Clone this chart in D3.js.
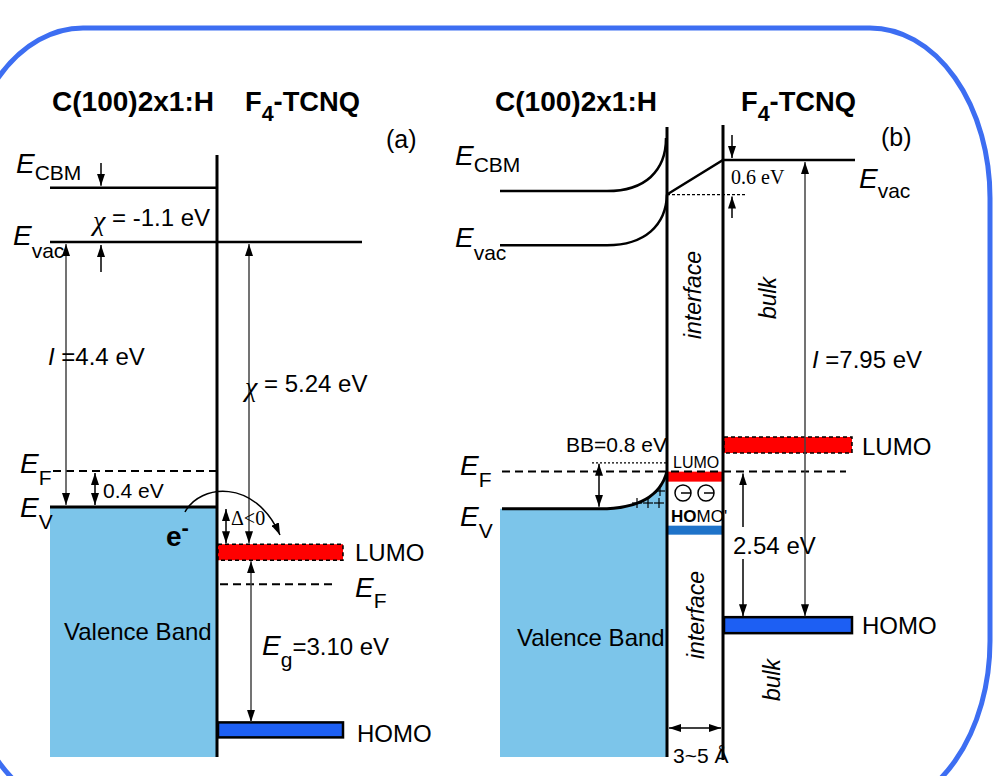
<!DOCTYPE html>
<html>
<head>
<meta charset="utf-8">
<script src="https://cdn.jsdelivr.net/npm/d3@7"></script>
<style>
    body { margin: 0; background: #fff; }
    text { font-family: "Liberation Sans", Arial, sans-serif; fill: #000; }
    .serif { font-family: "Liberation Serif", "Times New Roman", serif; }
</style>
</head>
<body>
<div id="chart"></div>
<script>
var svgWidth = 993;
var svgHeight = 776;

// ---- energy levels in eV (relative to the F4-TCNQ vacuum level) ----
// panel (a): before contact
var aDiamondLevels = [0.9, 0, -3.8, -4.4];        // E_CBM, E_vac, E_F, E_V
var aMoleculeLevels = [0, -5.15, -5.68, -8.1];    // E_vac, LUMO, E_F, HOMO
var aGapLabels = ["-1.1 eV", "4.4 eV", "0.4 eV", "5.24 eV", "3.10 eV"];

// panel (b): after contact
var bDiamondLevels = [-0.54, -1.48, -5.41, -6.06]; // E_CBM, E_vac, E_F, E_V (bulk)
var bSurfaceLevels = [0.38, -0.6, -5.41];          // E_CBM, E_vac, E_V bent up at the interface
var bInterfaceLevels = [-5.5, -6.43];              // LUMO', HOMO'
var bMoleculeLevels = [0, -4.95, -5.41, -8.08];    // E_vac, LUMO, E_F, HOMO
var bGapLabels = ["0.6 eV", "7.95 eV", "BB=0.8 eV", "2.54 eV", "3~5 Å"];

var vbColor = "#7cc5ea";
var lumoColor = "#ff0000";
var homoColor = "#1d5ff3";
var arrowGray = "#444";

var svg = d3.select("#chart")
    .append("svg")
    .attr("width", svgWidth)
    .attr("height", svgHeight);

// arrow heads
var defs = svg.append("defs");
defs.append("marker")
    .attr("id", "head")
    .attr("viewBox", "0 0 12 8")
    .attr("refX", 12)
    .attr("refY", 4)
    .attr("markerWidth", 12)
    .attr("markerHeight", 8)
    .attr("markerUnits", "userSpaceOnUse")
    .attr("orient", "auto-start-reverse")
    .append("path")
    .attr("d", "M0,0 L12,4 L0,8 Z")
    .attr("fill", "#000");

// energy scales for each panel
var yA = d3.scaleLinear().domain([0, -8.55]).range([242, 757]);
var yB = d3.scaleLinear().domain([0, -10.37]).range([160, 757]);

// helpers
function line(g, x1, y1, x2, y2, w, dash, color) {
    return g.append("line")
        .attr("x1", x1).attr("y1", y1)
        .attr("x2", x2).attr("y2", y2)
        .attr("stroke", color || "#000")
        .attr("stroke-width", w)
        .attr("stroke-dasharray", dash || null);
}

function arrow(g, x1, y1, x2, y2, both, color) {
    var l = line(g, x1, y1, x2, y2, 1.5, null, color || "#000")
        .attr("marker-end", "url(#head)");
    if (both) l.attr("marker-start", "url(#head)");
    return l;
}

function label(g, x, y, str, size, cls) {
    return g.append("text")
        .attr("x", x)
        .attr("y", y)
        .attr("font-size", size)
        .attr("class", cls || null)
        .text(str);
}

function eLabel(g, x, y, sub, dy) {
    var t = g.append("text").attr("x", x).attr("y", y);
    t.append("tspan").attr("font-style", "italic").attr("font-size", 28).text("E");
    t.append("tspan").attr("font-size", 21).attr("dy", dy).text(sub);
    return t;
}

function chiLabel(g, x, y, str) {
    var t = g.append("text").attr("x", x).attr("y", y).attr("font-size", 24);
    t.append("tspan").attr("class", "serif").attr("font-style", "italic")
        .attr("font-size", 28).attr("dy", 4).text("χ");
    t.append("tspan").attr("dy", -4).text(" = " + str);
    return t;
}

function title(g, x, y, left) {
    label(g, x, y, "C(100)2x1:H", 28)
        .attr("font-weight", "bold")
        .attr("textLength", 162)
        .attr("lengthAdjust", "spacingAndGlyphs");
    var t = g.append("text").attr("x", left).attr("y", y)
        .attr("font-size", 28).attr("font-weight", "bold")
        .attr("textLength", 115)
        .attr("lengthAdjust", "spacingAndGlyphs");
    t.append("tspan").text("F");
    t.append("tspan").attr("dy", 10).attr("font-size", 22).text("4");
    t.append("tspan").attr("dy", -10).text("-TCNQ");
}

function level(g, x, w, yc, h, fill, dashed) {
    return g.append("rect")
        .attr("x", x).attr("y", yc - h / 2)
        .attr("width", w).attr("height", h)
        .attr("fill", fill)
        .attr("stroke", "#000")
        .attr("stroke-width", dashed ? 1.5 : 2.5)
        .attr("stroke-dasharray", dashed ? "4,3" : null);
}

// rounded frame
svg.append("rect")
    .attr("x", -37).attr("y", 28)
    .attr("width", 1027).attr("height", 783)
    .attr("rx", 120).attr("ry", 170)
    .attr("fill", "none")
    .attr("stroke", "#3d6ef2")
    .attr("stroke-width", 5);

// ================= panel (a) =================
var ga = svg.append("g");

title(ga, 52, 111, 245);
label(ga, 386, 148, "(a)", 25);

// valence band block
ga.append("rect")
    .attr("x", 50).attr("y", yA(aDiamondLevels[3]))
    .attr("width", 166).attr("height", yA(-8.55) - yA(aDiamondLevels[3]))
    .attr("fill", vbColor);

line(ga, 50, yA(aDiamondLevels[0]), 217, yA(aDiamondLevels[0]), 2.5);
line(ga, 50, yA(aDiamondLevels[1]), 362, yA(aMoleculeLevels[0]), 2.5);
line(ga, 53, yA(aDiamondLevels[2]), 217, yA(aDiamondLevels[2]), 2, "8,5");
line(ga, 50, yA(aDiamondLevels[3]), 217, yA(aDiamondLevels[3]), 3);
line(ga, 217, 155, 217, 757, 3);

// molecule levels
level(ga, 218, 125, yA(aMoleculeLevels[1]), 16, lumoColor, true);
line(ga, 220, yA(aMoleculeLevels[2]), 333, yA(aMoleculeLevels[2]), 2, "8,5");
level(ga, 218, 125, yA(aMoleculeLevels[3]), 15, homoColor, false);

// arrows
arrow(ga, 101, 163, 101, yA(aDiamondLevels[0]) - 2, false);
arrow(ga, 101, 272, 101, yA(aDiamondLevels[1]) + 3, false);
arrow(ga, 66, yA(aDiamondLevels[1]) + 2, 66, yA(aDiamondLevels[3]) - 2, true, arrowGray);
arrow(ga, 249, yA(aMoleculeLevels[0]) + 2, 249, yA(aMoleculeLevels[1]) - 9, true, arrowGray);
arrow(ga, 95, yA(aDiamondLevels[2]) + 2, 95, yA(aDiamondLevels[3]) - 2, true);
arrow(ga, 226, yA(aDiamondLevels[3]) + 2, 226, yA(aMoleculeLevels[1]) - 9, true);
arrow(ga, 251, yA(aMoleculeLevels[1]) + 9, 251, yA(aMoleculeLevels[3]) - 8, true, arrowGray);

// electron transfer arc
ga.append("path")
    .attr("d", "M185,512 C200,484 255,478 280,535")
    .attr("fill", "none")
    .attr("stroke", "#000")
    .attr("stroke-width", 1.5)
    .attr("marker-end", "url(#head)");

// labels
eLabel(ga, 16, 173, "CBM", 7);
eLabel(ga, 13, 245, "vac", 13);
eLabel(ga, 20, 473, "F", 12);
eLabel(ga, 20, 517, "V", 12);
eLabel(ga, 355, 597, "F", 11);

chiLabel(ga, 93, 226, aGapLabels[0]);

var iA = ga.append("text").attr("x", 48).attr("y", 365).attr("font-size", 24);
iA.append("tspan").attr("font-style", "italic").text("I");
iA.append("tspan").text(" =" + aGapLabels[1]);

label(ga, 103, 498, aGapLabels[2], 21);

chiLabel(ga, 245, 392, aGapLabels[3]);

var eMinus = ga.append("text").attr("x", 166).attr("y", 546)
    .attr("font-size", 28).attr("font-weight", "bold");
eMinus.append("tspan").text("e");
eMinus.append("tspan").attr("dy", -11).attr("font-size", 22).text("-");

label(ga, 231, 525, "Δ<0", 20, "serif");
label(ga, 355, 561, "LUMO", 24);
label(ga, 64, 640, "Valence Band", 24);

var egA = ga.append("text").attr("x", 262).attr("y", 655);
egA.append("tspan").attr("font-style", "italic").attr("font-size", 28).text("E");
egA.append("tspan").attr("font-size", 21).attr("dy", 12).text("g");
egA.append("tspan").attr("font-size", 24).attr("dy", -12).text("=" + aGapLabels[4]);

label(ga, 357, 742, "HOMO", 24);

// ================= panel (b) =================
var gb = svg.append("g");

title(gb, 495, 111, 741);
label(gb, 881, 146, "(b)", 25);

var xL = 500, xBend = 600, xI1 = 667, xI2 = 723, xR = 852;

// valence band with upward bending
var vbTop = yB(bDiamondLevels[3]);
var vbSurf = yB(bSurfaceLevels[2]);
gb.append("path")
    .attr("d", "M" + xL + "," + vbTop + " H" + xBend +
        " C635," + vbTop + " 660," + (vbTop - 10) + " " + xI1 + "," + vbSurf +
        " V757 H" + xL + " Z")
    .attr("fill", vbColor);
gb.append("path")
    .attr("d", "M" + (xL + 2) + "," + vbTop + " H" + xBend +
        " C635," + vbTop + " 660," + (vbTop - 10) + " " + xI1 + "," + vbSurf)
    .attr("fill", "none")
    .attr("stroke", "#000")
    .attr("stroke-width", 3);

// bent CBM and vacuum level
var cbm0 = yB(bDiamondLevels[0]), cbmS = yB(bSurfaceLevels[0]);
var vac0 = yB(bDiamondLevels[1]), vacS = yB(bSurfaceLevels[1]);
gb.append("path")
    .attr("d", "M" + xL + "," + cbm0 + " H607 C645," + cbm0 + " 666," + (cbm0 - 20) + " 666," + cbmS)
    .attr("fill", "none").attr("stroke", "#000").attr("stroke-width", 2.5);
gb.append("path")
    .attr("d", "M" + xL + "," + vac0 + " H607 C645," + vac0 + " 666," + (vac0 - 20) + " " + xI1 + "," + vacS)
    .attr("fill", "none").attr("stroke", "#000").attr("stroke-width", 2.5);
gb.append("path")
    .attr("d", "M" + xI1 + "," + vacS + " L" + xI2 + "," + yB(bMoleculeLevels[0]) + " H855")
    .attr("fill", "none").attr("stroke", "#000").attr("stroke-width", 2.5);
line(gb, xI1, vacS, 747, vacS, 1.2, "3,2");

// interface levels
level(gb, 668, 54, yB(bInterfaceLevels[0]), 10, lumoColor, false).attr("stroke", "none");
gb.append("rect")
    .attr("x", 668).attr("y", yB(bInterfaceLevels[1]) - 4.5)
    .attr("width", 54).attr("height", 9)
    .attr("fill", "#1f73c9");

// Fermi level across
line(gb, 502, yB(bDiamondLevels[2]), 846, yB(bMoleculeLevels[2]), 2, "8,5");

// bulk molecule levels
level(gb, 724, 128, yB(bMoleculeLevels[1]), 16, lumoColor, true);
level(gb, 724, 128, yB(bMoleculeLevels[3]), 16, homoColor, false);

// interface walls
line(gb, xI1, 127, xI1, 757, 3);
line(gb, xI2, 125, xI2, 760, 3);

// arrows
arrow(gb, 732, 135, 732, yB(bMoleculeLevels[0]) - 2, false);
arrow(gb, 732, 218, 732, vacS + 2, false);
arrow(gb, 805, yB(bMoleculeLevels[0]) + 2, 805, yB(bMoleculeLevels[3]) - 9, true, arrowGray);
var bbTop = yB(bDiamondLevels[3] + 0.8);
line(gb, 592, bbTop, xI1, bbTop, 1.2, "2,2");
arrow(gb, 599, bbTop + 1, 599, vbTop - 2, true);
line(gb, 743, yB(bMoleculeLevels[2]) + 2, 743, 527, 1.5).attr("marker-start", "url(#head)");
line(gb, 743, 559, 743, yB(bMoleculeLevels[3]) - 9, 1.5).attr("marker-end", "url(#head)");
arrow(gb, 669, 728, 721, 728, true);

// charges at the interface
[[660, 491], [637, 503], [648, 503], [659, 503]].forEach(function(p) {
    line(gb, p[0] - 5, p[1], p[0] + 5, p[1], 1.2);
    line(gb, p[0], p[1] - 5, p[0], p[1] + 5, 1.2);
});
[683, 706].forEach(function(cx) {
    gb.append("circle").attr("cx", cx).attr("cy", 493).attr("r", 8)
        .attr("fill", "none").attr("stroke", "#000").attr("stroke-width", 1.5);
    line(gb, cx - 2, 493, cx + 8, 493, 1.5);
});

// labels
eLabel(gb, 455, 165, "CBM", 7);
eLabel(gb, 455, 247, "vac", 13);
eLabel(gb, 859, 188, "vac", 10);
eLabel(gb, 460, 475, "F", 12);
eLabel(gb, 460, 526, "V", 12);

label(gb, 731, 184, bGapLabels[0], 20, "serif");

var iB = gb.append("text").attr("x", 812).attr("y", 368).attr("font-size", 24);
iB.append("tspan").attr("font-style", "italic").text("I");
iB.append("tspan").text(" =" + bGapLabels[1]);

label(gb, 566, 452, bGapLabels[2], 21);
label(gb, 733, 554, bGapLabels[3], 24);
label(gb, 862, 455, "LUMO", 24);
label(gb, 862, 634, "HOMO", 24);
label(gb, 673, 468, "LUMO", 16);
var homoP = gb.append("text").attr("x", 671).attr("y", 522).attr("font-size", 17);
homoP.append("tspan").attr("font-weight", "bold").text("HO");
homoP.append("tspan").text("MO'");
label(gb, 517, 646, "Valence Band", 24);
label(gb, 673, 763, bGapLabels[4], 21);

// rotated region names
[["interface", 701, 295], ["interface", 704, 615], ["bulk", 776, 298], ["bulk", 780, 680]]
    .forEach(function(d) {
        gb.append("text")
            .attr("transform", "translate(" + d[1] + "," + d[2] + ") rotate(-90)")
            .attr("text-anchor", "middle")
            .attr("font-size", 23)
            .attr("font-style", "italic")
            .text(d[0]);
    });
</script>
</body>
</html>
